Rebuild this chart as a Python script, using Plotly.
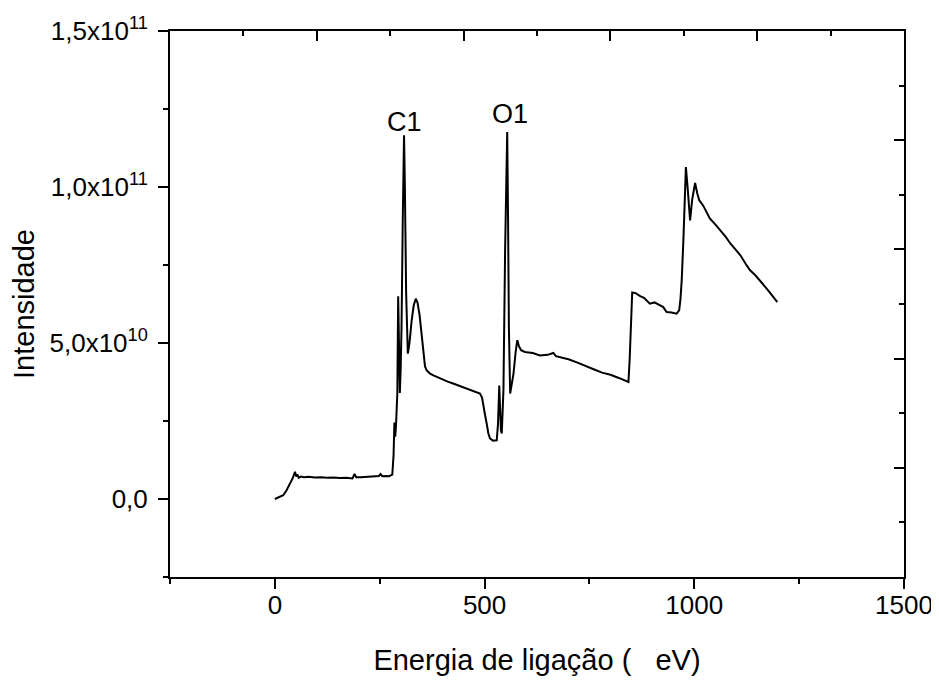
import plotly.graph_objects as go

# Binding energy (eV) and intensity (x1e10)
energia = [0, 10, 20, 28, 35, 42, 48, 51, 54, 57, 62, 70, 80, 95, 110, 125, 140, 155, 170, 185,
           190, 194, 205, 220, 235, 248, 252, 256, 265, 272, 280, 283, 285, 287, 289, 292, 294,
           296, 298, 300, 302, 305, 308, 310, 313, 317, 321, 326, 331, 336, 340, 345, 350, 354,
           358, 362, 370, 378, 390, 400, 412, 425, 440, 455, 470, 481, 489, 494, 497, 501, 505,
           509, 513, 520, 529, 532, 535, 537, 539, 541, 545, 549, 552, 554, 556, 558, 561, 565,
           569, 574, 578, 582, 587, 595, 600, 615, 632, 650, 664, 670, 680, 700, 720, 740, 760,
           780, 800, 820, 835, 843, 846, 849, 852, 860, 871, 880, 894, 905, 918, 926, 934, 946,
           958, 964, 967, 970, 974, 977, 980, 984, 987, 990, 995, 1002, 1007, 1012, 1021, 1030,
           1037, 1050, 1062, 1075, 1086, 1098, 1110, 1122, 1133, 1145, 1157, 1166, 1176, 1188, 1198]
intensidade_e10 = [0.0, 0.05, 0.12, 0.28, 0.45, 0.65, 0.87, 0.72, 0.78, 0.68, 0.72, 0.70, 0.71,
                   0.69, 0.70, 0.68, 0.69, 0.67, 0.68, 0.66, 0.80, 0.70, 0.70, 0.71, 0.72, 0.74,
                   0.80, 0.73, 0.74, 0.73, 0.78, 1.4, 2.45, 2.0, 2.4, 3.4, 6.5, 4.5, 3.4, 4.2, 5.5,
                   9.0, 11.66, 10.0, 6.6, 4.66, 5.0, 5.7, 6.2, 6.42, 6.3, 5.9, 5.2, 4.6, 4.25, 4.12,
                   4.02, 3.96, 3.88, 3.82, 3.76, 3.70, 3.63, 3.55, 3.49, 3.43, 3.38, 3.25, 3.06,
                   2.7, 2.42, 2.1, 1.94, 1.87, 1.88, 2.4, 3.64, 2.8, 2.2, 2.1, 3.5, 8.0, 11.2,
                   11.76, 9.0, 5.5, 3.38, 3.7, 4.02, 4.7, 5.09, 4.9, 4.77, 4.72, 4.70, 4.68, 4.60,
                   4.62, 4.68, 4.58, 4.55, 4.48, 4.38, 4.28, 4.16, 4.05, 3.98, 3.88, 3.80, 3.75,
                   4.5, 5.8, 6.62, 6.6, 6.5, 6.45, 6.26, 6.3, 6.2, 6.15, 5.99, 5.98, 5.94, 6.05,
                   6.4, 7.0, 8.29, 9.8, 10.64, 10.0, 9.3, 8.93, 9.6, 10.13, 9.8, 9.57, 9.41, 9.15,
                   8.99, 8.8, 8.61, 8.4, 8.19, 8.0, 7.81, 7.55, 7.33, 7.18, 7.01, 6.85, 6.69, 6.5,
                   6.31]
intensidade = [v * 1e10 for v in intensidade_e10]

# Peak labels
rotulos = ["C1", "O1"]
rotulo_x = [310, 561]
rotulo_y = [1.208e11, 1.235e11]

y_tickvals = [0, 5e10, 1e11, 1.5e11]
y_ticktext = ["0,0", "5,0x10<sup>10</sup>", "1,0x10<sup>11</sup>", "1,5x10<sup>11</sup>"]
x_tickvals = [0, 500, 1000, 1500]

FONT = "Arial, Liberation Sans, sans-serif"

fig = go.Figure()
fig.add_trace(go.Scatter(x=energia, y=intensidade, mode="lines",
                         line=dict(color="black", width=2), showlegend=False))
# empty trace so the mirrored top/right frame axes get drawn
fig.add_trace(go.Scatter(x=[], y=[], xaxis="x2", yaxis="y2", mode="lines",
                         showlegend=False, hoverinfo="skip"))

for t, xv, yv in zip(rotulos, rotulo_x, rotulo_y):
    fig.add_annotation(x=xv, y=yv, text=t, showarrow=False,
                       font=dict(family=FONT, size=27, color="black"))

frame_axis = dict(range=[0, 10], dtick=2, tick0=0, ticks="inside", ticklen=10, tickwidth=2,
                  tickcolor="black", showticklabels=False, showline=True, linecolor="black",
                  linewidth=2, showgrid=False, zeroline=False, fixedrange=True,
                  automargin=False,
                  minor=dict(dtick=1, tick0=0, ticks="inside", ticklen=5, tickwidth=2,
                             tickcolor="black"))

fig.update_layout(
    width=939, height=685,
    margin=dict(l=162, r=43, t=23, b=116),
    paper_bgcolor="white", plot_bgcolor="white",
    font=dict(family=FONT, color="black"),
    xaxis=dict(range=[-250, 1500], tickvals=x_tickvals, ticks="outside", ticklen=10,
               tickwidth=2, tickcolor="black", showline=True, linecolor="black", linewidth=2,
               showgrid=False, zeroline=False, automargin=False,
               minor=dict(tickvals=[-250, 250, 750, 1250], ticks="outside", ticklen=5,
                          tickwidth=2, tickcolor="black"),
               tickfont=dict(size=26, family=FONT), ticklabelstandoff=-6,
               title=dict(text="Energia de ligação (   eV)", font=dict(size=29, family=FONT),
                          standoff=30)),
    yaxis=dict(range=[-2.5e10, 1.5e11], tickvals=y_tickvals, ticktext=y_ticktext,
               ticks="outside", ticklen=10, tickwidth=2, tickcolor="black",
               showline=True, linecolor="black", linewidth=2, showgrid=False, zeroline=False,
               automargin=False,
               minor=dict(dtick=2.5e10, ticks="outside", ticklen=5, tickwidth=2,
                          tickcolor="black"),
               tickfont=dict(size=26, family=FONT), ticklabelstandoff=5,
               title=dict(text="Intensidade", font=dict(size=29, family=FONT), standoff=16)),
    xaxis2=dict(overlaying="x", side="top", anchor="y2", **frame_axis),
    yaxis2=dict(overlaying="y", side="right", anchor="x2", **frame_axis),
)

fig.write_html("out.html")
